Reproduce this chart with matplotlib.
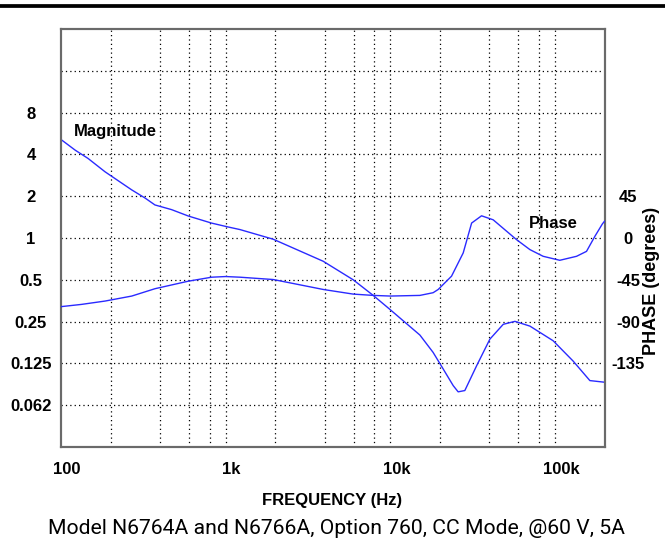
import numpy as np
import matplotlib
matplotlib.use('Agg')
import matplotlib.pyplot as plt
from matplotlib.lines import Line2D
from matplotlib.transforms import ScaledTranslation

# data
mag_freq = [100, 122, 146, 185, 198, 269, 324, 372, 470, 593, 822, 1037, 1222, 1507,
            1945, 3913, 5954, 7875, 9950, 15130, 18200, 20950, 24100, 25830, 28360,
            33420, 40270, 48530, 57150, 70470, 97500, 128900, 163000, 200000]
mag_vals = [5.12, 4.29, 3.74, 3.0, 2.84, 2.22, 1.94, 1.73, 1.6, 1.44, 1.28, 1.2, 1.15, 1.07,
            0.98, 0.68, 0.50, 0.386, 0.306, 0.20, 0.15, 0.114, 0.0865, 0.078, 0.0797,
            0.12, 0.187, 0.239, 0.251, 0.232, 0.182, 0.13, 0.094, 0.0915]

phase_freq = [100, 133, 185, 269, 372, 593, 822, 1000, 1222, 1945, 3913, 5954, 7875,
              10000, 15130, 18200, 19540, 23550, 27720, 31190, 35830, 42150, 49640,
              58480, 70470, 84800, 107000, 135300, 155500, 174700, 194400, 200000]
phase_vals = [-73.9, -71.5, -67.9, -62.5, -54.6, -46.5, -42.2, -41.5, -42.2, -44.7, -55.4,
              -60.4, -61.8, -62.5, -61.8, -58.9, -55.4, -41.1, -16.1, 16.1, 23.9, 19.6, 8.9,
              -1.8, -12.5, -19.7, -24.0, -19.7, -14.4, 1.7, 15.3, 18.0]

freq_ticks = [100, 1000, 10000, 100000]
freq_labels = ['100', '1k', '10k', '100k']
freq_grid = [200, 400, 600, 800, 1000, 2000, 4000, 6000, 8000, 10000,
             20000, 40000, 60000, 80000, 100000]

mag_ticks = [8, 4, 2, 1, 0.5, 0.25, 0.125, 0.0625]
mag_labels = ['8', '4', '2', '1', '0.5', '0.25', '0.125', '0.062']
mag_grid = [16, 8, 4, 2, 1, 0.5, 0.25, 0.125, 0.0625]

phase_ticks = [45, 0, -45, -90, -135]
phase_labels = ['45', '0', '-45', '-90', '-135']

caption = 'Model N6764A and N6766A, Option 760, CC Mode, @60 V, 5A'

bold = dict(family='Liberation Sans', weight='bold', size=12)
line_col = '#2a2aff'
box_col = '#6a6a6a'

fig = plt.figure(figsize=(6.65, 5.39), dpi=100)
ax = fig.add_axes([61/665, 92/539, 543.5/665, 418/539])

ax.set_xscale('log')
ax.set_yscale('log', base=2)
ax.set_xlim(100, 200000)
ax.set_ylim(1/32, 32)

for f in freq_grid:
    ax.axvline(f, color='black', lw=0.9, ls=(0, (1, 2.5)), zorder=1)
for m in mag_grid:
    ax.axhline(m, color='black', lw=0.9, ls=(0, (1, 2.5)), zorder=1)

ax.plot(mag_freq, mag_vals, color=line_col, lw=1.0, zorder=3)

ax.set_xticks(freq_ticks)
ax.set_xticklabels(freq_labels, **bold)
ax.xaxis.set_minor_locator(matplotlib.ticker.NullLocator())
ax.set_yticks(mag_ticks)
ax.set_yticklabels(mag_labels, **bold)
ax.yaxis.set_minor_locator(matplotlib.ticker.NullLocator())
ax.tick_params(axis='both', length=0)
ax.tick_params(axis='y', pad=21.6)
ax.tick_params(axis='x', pad=11)
for lab in ax.get_yticklabels():
    lab.set_ha('center')
offset = ScaledTranslation(6/100., 0, fig.dpi_scale_trans)
for lab in ax.get_xticklabels():
    lab.set_transform(lab.get_transform() + offset)

ax2 = ax.twinx()
ax2.set_ylim(-225, 225)
ax2.plot(phase_freq, phase_vals, color=line_col, lw=1.0, zorder=3)
ax2.set_yticks(phase_ticks)
ax2.set_yticklabels(phase_labels, **bold)
ax2.tick_params(axis='y', length=0, pad=17)
for lab in ax2.get_yticklabels():
    lab.set_ha('center')

for a in (ax, ax2):
    for s in a.spines.values():
        s.set_color(box_col)
        s.set_linewidth(1.5)

ax.text(120, 5.88, 'Magnitude', va='center', ha='left', **bold)
ax2.text(69500, 15.3, 'Phase', va='center', ha='left', **bold)

fig.text(332.5/665, 1 - 500/539, 'FREQUENCY (Hz)', ha='center', va='center', **bold)
fig.text(651/665, 1 - 281/539, 'PHASE (degrees)', ha='center', va='center',
         rotation=90, family='Liberation Sans', weight='bold', size=13)
fig.text(336.5/665, 1 - 534/539, caption, ha='center', va='baseline',
         family='Roboto', size=15.2)

fig.add_artist(Line2D([0, 1], [1 - 5.5/539, 1 - 5.5/539], color='black', lw=2.7))

fig.savefig('out.png', dpi=100)
